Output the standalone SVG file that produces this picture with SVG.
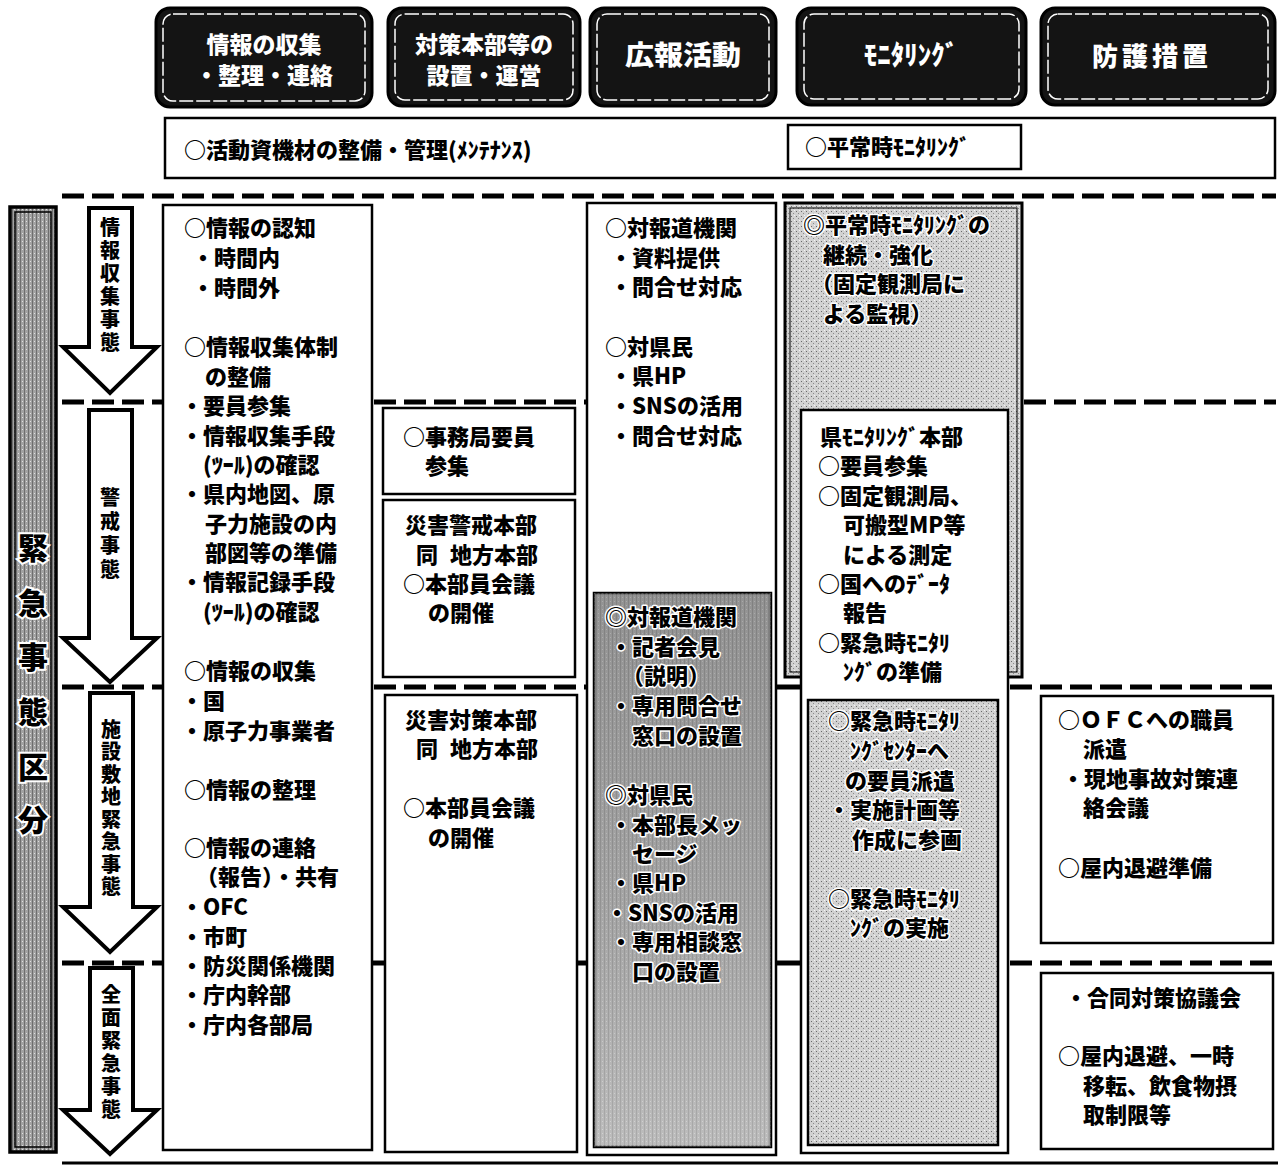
<svg xmlns="http://www.w3.org/2000/svg" width="1281" height="1166" viewBox="0 0 1281 1166">
<defs>
<style>
.t{font-family:"Noto Sans CJK JP","Noto Sans CJK SC",sans-serif;font-weight:900;font-size:22px;fill:#000}
.g{font-family:"Noto Sans CJK JP","Noto Sans CJK SC",sans-serif;font-weight:900;font-size:22px;fill:#000;stroke:#fff;stroke-width:3;paint-order:stroke;stroke-linejoin:round}
.h{font-family:"Noto Sans CJK JP","Noto Sans CJK SC",sans-serif;font-weight:900;fill:#fff;text-anchor:middle}
.v{font-family:"Noto Sans CJK JP","Noto Sans CJK SC",sans-serif;font-weight:900;font-size:20px;fill:#000;writing-mode:vertical-rl}
.big{font-family:"Noto Sans CJK JP","Noto Sans CJK SC",sans-serif;font-weight:900;font-size:30px;fill:#000;stroke:#fff;stroke-width:4;paint-order:stroke;text-anchor:middle}
.box{fill:#fff;stroke:#000;stroke-width:2.5}
.hdr{fill:#141414;stroke:#000;stroke-width:3}
.hdrin{fill:none;stroke:#fff;stroke-width:1.5;stroke-dasharray:14 3}
.dash{stroke:#000;stroke-width:5;stroke-dasharray:22 8;fill:none}
.stub{stroke:#000;stroke-width:5;fill:none}
.arrow{fill:#fff;stroke:#000;stroke-width:4;stroke-linejoin:miter}
</style>
<pattern id="stip" width="5" height="5" patternUnits="userSpaceOnUse">
<rect width="5" height="5" fill="#d2d2d2"/>
<rect x="1" y="1" width="1" height="1" fill="#6a6a6a"/>
<rect x="3" y="3" width="1" height="1" fill="#8a8a8a"/>
<rect x="4" y="0" width="1" height="1" fill="#f4f4f4"/>
</pattern>
<pattern id="hatch" width="4" height="4" patternUnits="userSpaceOnUse">
<rect width="4" height="4" fill="#a2a2a2"/>
<rect x="0" y="0" width="1" height="4" fill="#6e6e6e"/>
<rect x="2" y="1" width="1" height="1" fill="#e0e0e0"/>
</pattern>
<linearGradient id="pr" x1="0" y1="0" x2="0" y2="1">
<stop offset="0" stop-color="#8a8a8a"/>
<stop offset="0.55" stop-color="#a6a6a6"/>
<stop offset="1" stop-color="#cbcbcb"/>
</linearGradient>
</defs>
<rect width="1281" height="1166" fill="#fff"/>

<!-- header -->
<g id="hdr-info">
<rect class="hdr" x="156" y="8" width="216" height="99" rx="14"/>
<rect class="hdrin" x="163" y="14" width="202" height="87" rx="10"/>
<text class="h" font-size="23"><tspan x="264" y="53">情報の収集</tspan><tspan x="264" y="84">・整理・連絡</tspan></text>
</g>
<g id="hdr-hq">
<rect class="hdr" x="388" y="8" width="192" height="98" rx="14"/>
<rect class="hdrin" x="395" y="14" width="178" height="86" rx="10"/>
<text class="h" font-size="23"><tspan x="484" y="53">対策本部等の</tspan><tspan x="484" y="84">設置・運営</tspan></text>
</g>
<g id="hdr-pr">
<rect class="hdr" x="590" y="8" width="186" height="98" rx="14"/>
<rect class="hdrin" x="597" y="14" width="172" height="86" rx="10"/>
<text class="h" font-size="27" x="683" y="65" textLength="116" lengthAdjust="spacingAndGlyphs">広報活動</text>
</g>
<g id="hdr-mon">
<rect class="hdr" x="797" y="8" width="229" height="97" rx="14"/>
<rect class="hdrin" x="804" y="14" width="215" height="85" rx="10"/>
<text class="h" font-size="27" x="911" y="65">ﾓﾆﾀﾘﾝｸﾞ</text>
</g>
<g id="hdr-prot">
<rect class="hdr" x="1041" y="8" width="234" height="97" rx="14"/>
<rect class="hdrin" x="1048" y="14" width="220" height="85" rx="10"/>
<text class="h" font-size="26" x="1152" y="66" letter-spacing="4">防護措置</text>
</g>

<!-- normal-time row -->
<g id="row-normal">
<rect class="box" x="165" y="118" width="1110" height="60"/>
<text class="t" x="184" y="158">○活動資機材の整備・管理(ﾒﾝﾃﾅﾝｽ)</text>
</g>
<g id="row-normal-mon">
<rect class="box" x="788" y="125" width="233" height="44"/>
<text class="t" x="805" y="155">○平常時ﾓﾆﾀﾘﾝｸﾞ</text>
</g>

<!-- separators -->
<g id="connectors">
<line class="dash" x1="62" y1="196" x2="1276" y2="196"/>
<line class="dash" x1="62" y1="402" x2="163" y2="402"/>
<line class="dash" x1="374" y1="402" x2="587" y2="402"/>
<line class="dash" x1="1024" y1="402" x2="1276" y2="402"/>
<line class="dash" x1="62" y1="687" x2="163" y2="687"/>
<line class="dash" x1="374" y1="687" x2="587" y2="687"/>
<line class="stub" x1="776" y1="687" x2="801" y2="687"/>
<line class="dash" x1="1010" y1="687" x2="1276" y2="687"/>
<line class="dash" x1="62" y1="963" x2="163" y2="963"/>
<line class="stub" x1="372" y1="963" x2="385" y2="963"/>
<line class="stub" x1="577" y1="963" x2="587" y2="963"/>
<line class="stub" x1="776" y1="963" x2="801" y2="963"/>
<line class="dash" x1="1010" y1="963" x2="1276" y2="963"/>
<line x1="62" y1="1163" x2="1278" y2="1163" stroke="#000" stroke-width="3"/>
</g>

<g id="phase-bar">
<rect x="10" y="207" width="46" height="945" fill="url(#hatch)" stroke="#000" stroke-width="3.5"/>
<rect x="15" y="212" width="36" height="935" fill="none" stroke="#000" stroke-width="1.5"/>
<text class="big" x="33" y="559">緊</text>
<text class="big" x="33" y="614">急</text>
<text class="big" x="33" y="668">事</text>
<text class="big" x="33" y="723">態</text>
<text class="big" x="33" y="778">区</text>
<text class="big" x="33" y="831">分</text>
</g>

<g id="arrow-collect">
<path class="arrow" d="M89,208 H132 V347 H157 L110,393 L63,347 H89 Z"/>
<text class="v" x="110" y="217" letter-spacing="3">情報収集事態</text>
</g>
<g id="arrow-alert">
<path class="arrow" d="M89,410 H132 V638 H157 L110,682 L63,638 H89 Z"/>
<text class="v" x="110" y="487" letter-spacing="4">警戒事態</text>
</g>
<g id="arrow-site">
<path class="arrow" d="M90,693 H133 V907 H157 L110,952 L63,907 H90 Z"/>
<text class="v" x="111" y="719" letter-spacing="2.5">施設敷地緊急事態</text>
</g>
<g id="arrow-general">
<path class="arrow" d="M90,968 H133 V1110 H157 L110,1154 L63,1110 H90 Z"/>
<text class="v" x="111" y="984" letter-spacing="3">全面緊急事態</text>
</g>

<!-- column 1 -->
<g id="col-info">
<rect class="box" x="163" y="205" width="209" height="945"/>
<text class="t" x="184" y="236">○情報の認知</text>
<text class="t" x="192" y="266">・時間内</text>
<text class="t" x="192" y="296">・時間外</text>
<text class="t" x="184" y="355">○情報収集体制</text>
<text class="t" x="205" y="385">の整備</text>
<text class="t" x="181" y="414">・要員参集</text>
<text class="t" x="181" y="444">・情報収集手段</text>
<text class="t" x="203" y="473">(ﾂｰﾙ)の確認</text>
<text class="t" x="181" y="502">・県内地図、原</text>
<text class="t" x="205" y="532">子力施設の内</text>
<text class="t" x="205" y="561">部図等の準備</text>
<text class="t" x="181" y="590">・情報記録手段</text>
<text class="t" x="203" y="620">(ﾂｰﾙ)の確認</text>
<text class="t" x="184" y="679">○情報の収集</text>
<text class="t" x="181" y="709">・国</text>
<text class="t" x="181" y="739">・原子力事業者</text>
<text class="t" x="184" y="798">○情報の整理</text>
<text class="t" x="184" y="856">○情報の連絡</text>
<text class="t" x="196" y="885">（報告）・共有</text>
<text class="t" x="181" y="915">・OFC</text>
<text class="t" x="181" y="945">・市町</text>
<text class="t" x="181" y="974">・防災関係機関</text>
<text class="t" x="181" y="1003">・庁内幹部</text>
<text class="t" x="181" y="1033">・庁内各部局</text>
</g>

<!-- column 2 -->
<g id="hq-staff">
<rect class="box" x="383" y="408" width="192" height="86"/>
<text class="t" x="403" y="445">○事務局要員</text>
<text class="t" x="425" y="474">参集</text>
</g>
<g id="hq-alert">
<rect class="box" x="383" y="500" width="192" height="177"/>
<text class="t" x="405" y="533">災害警戒本部</text>
<text class="t" x="416" y="563">同<tspan x="450">地方本部</tspan></text>
<text class="t" x="403" y="592">○本部員会議</text>
<text class="t" x="428" y="621">の開催</text>
</g>
<g id="hq-disaster">
<rect class="box" x="385" y="695" width="192" height="457"/>
<text class="t" x="405" y="728">災害対策本部</text>
<text class="t" x="416" y="757">同<tspan x="450">地方本部</tspan></text>
<text class="t" x="403" y="816">○本部員会議</text>
<text class="t" x="428" y="846">の開催</text>
</g>

<!-- column 3 -->
<g id="col-pr">
<rect class="box" x="587" y="203" width="189" height="952"/>
<text class="t" x="605" y="236">○対報道機関</text>
<text class="t" x="610" y="266">・資料提供</text>
<text class="t" x="610" y="295">・問合せ対応</text>
<text class="t" x="605" y="355">○対県民</text>
<text class="t" x="610" y="384">・県HP</text>
<text class="t" x="610" y="414">・SNSの活用</text>
<text class="t" x="610" y="444">・問合せ対応</text>
</g>
<g id="pr-emergency">
<rect x="594" y="593" width="177" height="554" fill="url(#pr)" stroke="#000" stroke-width="2.5"/>
<rect x="594" y="593" width="177" height="554" fill="url(#hatch)" opacity="0.35"/>
<text class="g" x="605" y="625">◎対報道機関</text>
<text class="g" x="610" y="655">・記者会見</text>
<text class="g" x="622" y="684">（説明）</text>
<text class="g" x="610" y="714">・専用問合せ</text>
<text class="g" x="632" y="744">窓口の設置</text>
<text class="g" x="605" y="803">◎対県民</text>
<text class="g" x="610" y="833">・本部長メッ</text>
<text class="g" x="632" y="862">セージ</text>
<text class="g" x="610" y="891">・県HP</text>
<text class="g" x="606" y="921">・SNSの活用</text>
<text class="g" x="610" y="950">・専用相談窓</text>
<text class="g" x="632" y="980">口の設置</text>
</g>

<!-- column 4 -->
<g id="mon-normal">
<rect x="785" y="203" width="237" height="474" fill="url(#stip)" stroke="#000" stroke-width="3"/>
<rect x="790" y="208" width="227" height="464" fill="none" stroke="#000" stroke-width="1"/>
<text class="g" x="803" y="233">◎平常時ﾓﾆﾀﾘﾝｸﾞの</text>
<text class="g" x="823" y="263">継続・強化</text>
<text class="g" x="811" y="292">（固定観測局に</text>
<text class="g" x="823" y="322">よる監視）</text>
</g>
<g id="mon-hq">
<rect class="box" x="801" y="410" width="207" height="743"/>
<text class="t" x="820" y="445">県ﾓﾆﾀﾘﾝｸﾞ本部</text>
<text class="t" x="818" y="474">○要員参集</text>
<text class="t" x="818" y="504">○固定観測局、</text>
<text class="t" x="843" y="533">可搬型MP等</text>
<text class="t" x="843" y="563">による測定</text>
<text class="t" x="818" y="592">○国へのﾃﾞｰﾀ</text>
<text class="t" x="843" y="621">報告</text>
<text class="t" x="818" y="651">○緊急時ﾓﾆﾀﾘ</text>
<text class="t" x="843" y="680">ﾝｸﾞの準備</text>
</g>
<g id="mon-emergency">
<rect x="808" y="700" width="190" height="445" fill="url(#stip)" stroke="#000" stroke-width="2.5"/>
<text class="g" x="828" y="729">○緊急時ﾓﾆﾀﾘ</text>
<text class="g" x="850" y="759">ﾝｸﾞｾﾝﾀｰへ</text>
<text class="g" x="845" y="789">の要員派遣</text>
<text class="g" x="828" y="818">・実施計画等</text>
<text class="g" x="852" y="848">作成に参画</text>
<text class="g" x="828" y="907">○緊急時ﾓﾆﾀﾘ</text>
<text class="g" x="850" y="936">ﾝｸﾞの実施</text>
</g>

<!-- column 5 -->
<g id="prot-site">
<rect class="box" x="1041" y="696" width="232" height="247"/>
<text class="t" x="1058" y="728">○ＯＦＣへの職員</text>
<text class="t" x="1083" y="757">派遣</text>
<text class="t" x="1062" y="787">・現地事故対策連</text>
<text class="t" x="1083" y="816">絡会議</text>
<text class="t" x="1058" y="876">○屋内退避準備</text>
</g>
<g id="prot-general">
<rect class="box" x="1041" y="973" width="232" height="176"/>
<text class="t" x="1065" y="1006">・合同対策協議会</text>
<text class="t" x="1058" y="1064">○屋内退避、一時</text>
<text class="t" x="1083" y="1094">移転、飲食物摂</text>
<text class="t" x="1083" y="1123">取制限等</text>
</g>
</svg>
